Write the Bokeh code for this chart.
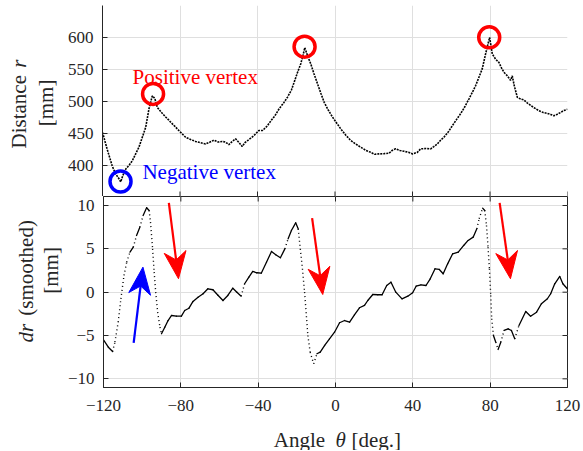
import numpy as np
from bokeh.plotting import figure
from bokeh.models import Label, FixedTicker, Range1d
from bokeh.layouts import column, row
from bokeh.core.properties import value
from bokeh.embed import file_html
from bokeh.resources import INLINE

# ---------------- data ----------------
top_angle = [-120, -117.5, -115, -113.3, -111.5, -110.6, -109.5, -108, -106, -104.6, -103, -101.2,
             -99.5, -97.7, -96, -94.3, -93, -91.7, -89.5, -87.4, -86, -84.8, -82.5, -80.6, -77.1,
             -74.5, -72, -69.5, -66.8, -64.5, -62.5, -60.3, -58.2, -56.5, -54.8, -53, -51.3, -49.5,
             -47.9, -46.5, -45.3, -43.5, -41.9, -40.9, -39.3, -37.4, -35, -33.1, -31, -28.8, -26.5,
             -24.5, -22.5, -21.1, -19.5, -17.7, -16.5, -15.6, -14, -12.5, -10.8, -9.0, -7.3, -5.6,
             -3.5, -1.3, 1, 3.0, 5.5, 8.1, 10.7, 13.3, 16, 18.4, 20.5, 22.7, 25.3, 27.9, 29.5, 31.3,
             33.5, 35.6, 38, 40, 42.5, 44.2, 47, 49.4, 51, 52.8, 54.5, 56.2, 58.5, 60.6, 62.7, 64.8,
             67, 69.1, 71, 72.6, 74.3, 76, 77.7, 79.8, 81.2, 82.9, 84.6, 86, 87.2, 89, 90.6, 91.5,
             92.5, 94.1, 95.8, 97.5, 99.2, 101, 103, 105.2, 107.5, 109.5, 111.3, 113, 114.5, 116.4,
             118, 120]
top_r = [452, 425, 400, 388, 380, 375, 385, 395, 402, 408, 418, 429,
         444, 460, 489, 509, 505, 491, 483, 476, 472, 468, 461, 455, 444.5,
         441, 438, 436, 434, 437, 440, 437, 438, 437, 433, 438, 442, 436,
         430, 436, 439, 443, 447, 450, 455, 455, 462, 470, 478, 489, 498,
         507, 518, 530, 544, 558.6, 572, 584, 570, 558.6, 543, 527.5, 513, 499,
         487, 476, 466, 457.5, 448, 439.5, 434, 429, 424, 421, 418, 418.6, 419, 419.6, 424, 426.5,
         424, 422.7, 421, 418.6, 421, 426.5, 427, 426.5, 430, 434, 440, 444.5, 453, 462.7, 472, 481,
         492, 504, 515, 525, 538, 551, 574, 600, 574, 566, 561, 552, 545.6, 540, 533, 540,
         525, 506.7, 504, 502.6, 498, 494, 490, 486, 483, 481.8, 480, 478, 480, 483,
         486, 488]

dr_angle = [-120, -117.5, -115.3, -114.1, -112.4, -111, -109.4, -108, -106.3, -104.6, -102.9, -101.2,
            -99.5, -97.7, -96.4, -95.7, -94.6, -93.8, -93, -92, -90.8, -90, -88.3, -86.6, -84.8,
            -82.3, -79.7, -78, -75.8, -73.7, -71.1, -68.5, -66, -63.4, -60.8, -58.2, -55.7, -53.1,
            -51, -48.8, -47, -44.8, -42.8, -40.7, -38.4, -35.7, -33.1, -30.9, -28.5, -26.2, -24.5,
            -22.8, -20.6, -19.3, -18.2, -17.1, -16, -15.2, -14.3, -13.1, -11.3, -9.6, -7.9, -5.6,
            -3.1, -0.5, 2.1, 4.7, 7.3, 9.8, 12.4, 15.0, 16.7, 19.3, 21.9, 24.1, 26.5, 28.7, 31.2,
            34.4, 37.4, 39.9, 41.7, 44.2, 46.8, 49.0, 51.5, 53.7, 55.7, 58.0, 60.6, 63.5, 66.3,
            68.6, 71.2, 73.1, 74.3, 76.1, 77.2, 78.1, 78.9, 79.6, 80.3, 80.8, 81.7, 82.9, 84.1,
            85.5, 87.2, 89.3, 91.0, 92.7, 94.9, 98.4, 100.9, 104.0, 106.5, 109.6, 111.3, 113.4,
            116.0, 117.6, 119.9]
dr_val = [-5.5, -6.35, -6.85, -5.77, -3.46, -0.77, 1.93, 3.46, 4.62, 5.19, 6.54, 7.5,
          8.85, 9.74, 9.43, 8.08, 5.0, 2.31, 0, -2.31, -4.04, -4.8, -4.04, -3.27, -2.69,
          -2.77, -2.77, -2.11, -1.85, -1.07, -0.58, -0.18, 0.39, 0.28, -0.35, -0.96, -0.38, 0.46,
          0, -0.46, 0.97, 1.73, 2.39, 2.24, 2.19, 3.46, 4.70, 4.32, 3.97, 5.0, 6.16,
          7.12, 8.0, 7.31, 5.0, 2.7, 0, -2.31, -5.0, -6.92, -8.27, -7.11, -6.92, -6.15,
          -5.38, -4.62, -3.53, -3.27, -3.46, -2.61, -1.80, -1.53, -0.96, -0.27, -0.30, -0.30, 0.77, 1.15, 0,
          -0.77, -0.46, -0.07, 0.69, 0.85, 0.77, 1.54, 2.7, 2.62, 2.12, 3.27, 4.43, 4.62, 5.39,
          5.97, 6.35, 7.31, 8.47, 9.70, 9.43, 7.70, 5.19, 2.70, -0.38, -3.07, -5.0, -5.77, -6.61,
          -5.77, -4.42, -4.23, -4.42, -5.38, -3.84, -2.23, -2.77, -2.31, -1.34, -0.76, -0.18, 0.97,
          1.81, 0.97, 0.39]

pos_vertex_angle = [-93.9, -15.7, 79.6]
pos_vertex_r = [512, 585.5, 600]
neg_vertex_angle = [-110.7]
neg_vertex_r = [375.6]

# arrows (tail -> tip) in the lower panel
red_arrows = [((-86.2, 10.3), (-81.2, 1.55)),
              ((-12.1, 8.54), (-6.6, -0.27)),
              ((84.9, 10.3), (90.5, 1.55))]
blue_arrows = [((-104.4, -5.84), (-99.6, 2.89))]

x_ticks = [-120, -80, -40, 0, 40, 80, 120]
r_ticks = [400, 450, 500, 550, 600]
dr_ticks = [-10, -5, 0, 5, 10]

# ---------------- layout ----------------
FONT = "Liberation Serif"
AX = "#262626"
GRID = "#dfdfdf"
TICK = 5                # tick length, px
LW = 64                 # width of the strip holding the y-axis titles
LEFT, RIGHT = 38, 15    # borders of the plots (for tick labels)
FRAME_W = 465
PW = LEFT + FRAME_W + RIGHT
TOP1 = 5
FRAME_H1 = 191
H1 = TOP1 + FRAME_H1
FRAME_H2 = 191
BOT2 = 30
H2 = FRAME_H2 + BOT2
HB = 33
XR = (-120, 120)
YR1 = (352.3, 649.6)
YR2 = (-11.0, 11.04)

sx = FRAME_W / (XR[1] - XR[0])
sy1 = FRAME_H1 / (YR1[1] - YR1[0])
sy2 = FRAME_H2 / (YR2[1] - YR2[0])


def style(p):
    p.background_fill_color = "white"
    p.border_fill_color = "white"
    p.xgrid.ticker = FixedTicker(ticks=x_ticks)
    for g in (p.xgrid, p.ygrid):
        g.grid_line_color = GRID
        g.grid_line_width = 1


def style_axis(a, standoff=9, size="17px"):
    a.axis_line_color = AX
    a.axis_line_width = 1
    a.major_tick_line_color = AX
    a.major_tick_in = TICK
    a.major_tick_out = 0
    a.minor_tick_line_color = None
    a.major_label_text_font = FONT
    a.major_label_text_color = AX
    a.major_label_text_font_size = size
    a.major_label_standoff = standoff


def strip(width, height, y0, y1, x0=0):
    """A bare figure whose frame is the whole area; coordinates = page pixels."""
    s = figure(width=width, height=height, x_range=Range1d(x0, x0 + width),
               y_range=Range1d(y1, y0), min_border=0, x_axis_location=None,
               y_axis_location=None, output_backend="svg", toolbar_location=None)
    s.outline_line_color = None
    s.grid.visible = False
    s.background_fill_color = "white"
    s.border_fill_color = "white"
    return s


def txt(s, x, y, t, italic=False, align="left", angle=np.pi / 2, size="21px", color=AX):
    s.text(x=[x], y=[y], text=[t], angle=angle, text_align=align, text_baseline="middle",
           text_font=value(FONT), text_font_size=value(size), text_color=color,
           text_font_style=value("italic" if italic else "normal"))


# ---------- top panel ----------
p1 = figure(width=PW, height=H1, x_range=Range1d(*XR), y_range=Range1d(*YR1),
            min_border_left=LEFT, min_border_right=RIGHT, min_border_top=TOP1,
            min_border_bottom=0, x_axis_location=None,
            output_backend="svg", toolbar_location=None)
style(p1)
p1.outline_line_color = None
p1.yaxis.ticker = FixedTicker(ticks=r_ticks)
p1.ygrid.ticker = FixedTicker(ticks=r_ticks)
style_axis(p1.yaxis[0])
# inward ticks of the (shared) bottom edge of the top panel
p1.segment(x_ticks, [YR1[0]] * len(x_ticks), x_ticks, [YR1[0] + TICK / sy1] * len(x_ticks),
           line_color=AX, line_width=1)

p1.line(top_angle, top_r, line_color="black", line_width=1.6, line_dash="2 1")
p1.scatter(pos_vertex_angle, pos_vertex_r, marker="circle", size=21, fill_color=None,
           line_color="#ff0000", line_width=3.5)
p1.scatter(neg_vertex_angle, neg_vertex_r, marker="circle", size=21, fill_color=None,
           line_color="#0000ff", line_width=3.5)
p1.add_layout(Label(x=-104.5, y=537.8, text="Positive vertex", text_color="#ff0000",
                    text_font=FONT, text_font_size="21px", text_baseline="alphabetic"))
p1.add_layout(Label(x=-99.4, y=390, text="Negative vertex", text_color="#0000ff",
                    text_font=FONT, text_font_size="21px", text_baseline="alphabetic"))

L1 = strip(LW, H1, 0, H1)
txt(L1, 18.5, 146.7, "Distance")
txt(L1, 18.5, 64.0, "r", italic=True)
txt(L1, 45.0, 100.0, "[mm]", align="center")

# ---------- bottom panel ----------
p2 = figure(width=PW, height=H2, x_range=p1.x_range, y_range=Range1d(*YR2),
            min_border_left=LEFT, min_border_right=RIGHT, min_border_top=0,
            min_border_bottom=BOT2, output_backend="svg", toolbar_location=None)
style(p2)
p2.outline_line_color = AX
p2.outline_line_width = 1
p2.yaxis.ticker = FixedTicker(ticks=dr_ticks)
p2.ygrid.ticker = FixedTicker(ticks=dr_ticks)
p2.xaxis.ticker = FixedTicker(ticks=x_ticks)
style_axis(p2.yaxis[0], standoff=9)
style_axis(p2.xaxis[0], standoff=12)
# inward ticks on the top and right edges of the box
p2.segment(x_ticks, [YR2[1]] * len(x_ticks), x_ticks, [YR2[1] - TICK / sy2] * len(x_ticks),
           line_color=AX, line_width=1)
p2.segment([XR[1]] * len(dr_ticks), dr_ticks, [XR[1] - TICK / sx] * len(dr_ticks), dr_ticks,
           line_color=AX, line_width=1)

# the sampled curve looks solid where flat and dotted where steep
da = np.array(dr_angle, dtype=float)
dv = np.array(dr_val, dtype=float)
slope = np.abs(np.diff(dv) * sy2) / (np.diff(da) * sx)
steep = slope > 3.0
p2.segment(da[:-1][~steep], dv[:-1][~steep], da[1:][~steep], dv[1:][~steep],
           line_color="black", line_width=1.3, line_cap="round")
p2.segment(da[:-1][steep], dv[:-1][steep], da[1:][steep], dv[1:][steep],
           line_color="black", line_width=1.4, line_dash="1 3")


def arrow(p, tail, tip, color, length=27.0, width=22.0, notch=8.0):
    dx = (tip[0] - tail[0]) * sx
    dy = (tip[1] - tail[1]) * sy2
    L = np.hypot(dx, dy)
    ux, uy = dx / L, dy / L
    nx, ny = -uy, ux
    pts = [(0, 0),
           (-ux * length + nx * width / 2, -uy * length + ny * width / 2),
           (-ux * (length - notch), -uy * (length - notch)),
           (-ux * length - nx * width / 2, -uy * length - ny * width / 2)]
    xs = [tip[0] + a / sx for a, b in pts]
    ys = [tip[1] + b / sy2 for a, b in pts]
    p.line([tail[0], xs[2]], [tail[1], ys[2]], line_color=color, line_width=2.2)
    p.patch(xs, ys, fill_color=color, line_color=color, line_width=1)


for t, h in red_arrows:
    arrow(p2, t, h, "#ff0000")
for t, h in blue_arrows:
    arrow(p2, t, h, "#0000ff")

L2 = strip(LW, H2, H1, H1 + H2)
txt(L2, 25.5, 365.0, "dr", italic=True)
txt(L2, 25.5, 334.0, "(smoothed)")
txt(L2, 50.5, 281.5, "[mm]", align="center")

# ---------- x-axis title ----------
B = strip(LW + PW, HB, H1 + H2, H1 + H2 + HB)
txt(B, 273.3, 439.0, "Angle", angle=0)
txt(B, 335.0, 439.0, "θ", italic=True, angle=0)
txt(B, 351.0, 439.0, "[deg.]", angle=0)

layout = column(row(L1, p1, spacing=0), row(L2, p2, spacing=0), B, spacing=0)
open("out.html", "w").write(file_html(layout, INLINE))
